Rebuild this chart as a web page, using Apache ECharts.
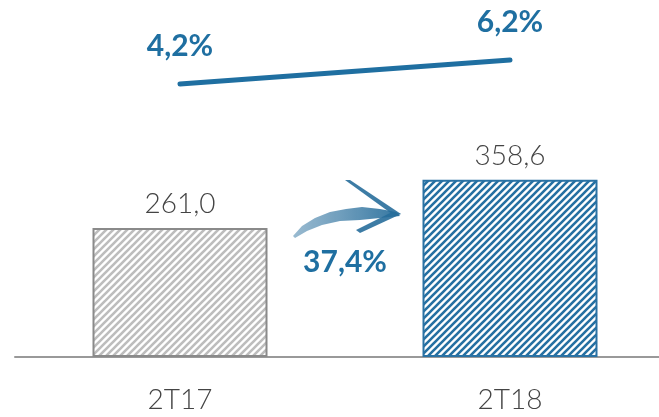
<!DOCTYPE html>
<html>
<head>
<meta charset="utf-8">
<script src="https://cdn.jsdelivr.net/npm/echarts@6/dist/echarts.min.js"></script>
<style>
  html, body { margin: 0; padding: 0; background: #fff; }
  #main { width: 659px; height: 417px; }
</style>
</head>
<body>
<div id="main"></div>
<script>
// data
var categories = ['2T17', '2T18'];
var barValues = [261.0, 358.6];
var lineValues = [4.2, 6.2];
var growthLabel = '37,4%';

var BLUE = '#1f6fa1';
var fmt = function (v, d) { return v.toFixed(d).replace('.', ','); };

// striped fill pattern
function stripes(color) {
  var s = 7;
  var c = document.createElement('canvas');
  c.width = s; c.height = s;
  var ctx = c.getContext('2d');
  ctx.fillStyle = '#fff';
  ctx.fillRect(0, 0, s, s);
  ctx.strokeStyle = color;
  ctx.lineWidth = 2.6;
  ctx.beginPath();
  ctx.moveTo(-1, s + 1); ctx.lineTo(s + 1, -1);
  ctx.moveTo(-s - 1, s + 1); ctx.lineTo(1, -1);
  ctx.moveTo(-1, 2 * s + 1); ctx.lineTo(2 * s + 1, -1);
  ctx.stroke();
  return { image: c, repeat: 'repeat' };
}

var myChart = echarts.init(document.getElementById('main'));
var option = {
  animation: false,
  grid: [
    { left: 15, width: 660, top: 110, bottom: 60, outerBoundsMode: 'none', containLabel: false },
    { left: 15, width: 660, top: 14.4, height: 120, outerBoundsMode: 'none', containLabel: false }
  ],
  xAxis: [
    {
      type: 'category', gridIndex: 0, data: categories,
      axisLine: { lineStyle: { color: '#999', width: 2 } },
      axisTick: { show: false },
      axisLabel: { color: '#444', fontSize: 28, margin: 29, fontFamily: 'Lato', fontWeight: 300 }
    },
    { type: 'category', gridIndex: 1, data: categories, show: false }
  ],
  yAxis: [
    { type: 'value', gridIndex: 0, min: 0, max: 500, show: false },
    { type: 'value', gridIndex: 1, min: 0, max: 10, show: false }
  ],
  series: [
    {
      type: 'bar', xAxisIndex: 0, yAxisIndex: 0, barWidth: 175,
      data: barValues.map(function (v, i) {
        return {
          value: v,
          itemStyle: i === 0
            ? { color: stripes('#bdbdbd'), borderColor: '#8a8a8a', borderWidth: 2 }
            : { color: stripes('#2570a2'), borderColor: '#2a72a4', borderWidth: 2 }
        };
      }),
      label: {
        show: true, position: 'top', distance: 10,
        color: '#444', fontSize: 28, fontFamily: 'Lato', fontWeight: 300,
        formatter: function (p) { return fmt(p.value, 1); }
      }
    },
    {
      type: 'line', xAxisIndex: 1, yAxisIndex: 1, data: lineValues,
      symbol: 'circle', symbolSize: 1, showSymbol: true,
      itemStyle: { color: BLUE },
      lineStyle: { color: BLUE, width: 5, cap: 'round' },
      label: {
        show: true, position: 'top', distance: 22,
        color: BLUE, fontSize: 30, fontWeight: 'bold', fontFamily: 'Lato',
        formatter: function (p) { return fmt(p.value, 1) + '%'; }
      }
    }
  ],
  graphic: [
    {
      // arrow shaft
      type: 'polygon',
      shape: {
        points: [[293, 236], [302, 226], [315, 218], [330, 212], [346, 209], [362, 207],
                 [380, 209], [396, 212], [400, 216], [380, 218], [360, 220], [340, 221],
                 [322, 225], [307, 231], [295, 238]]
      },
      style: {
        fill: {
          type: 'linear', x: 0, y: 0, x2: 1, y2: 0,
          colorStops: [
            { offset: 0, color: 'rgba(70,130,170,0.55)' },
            { offset: 1, color: 'rgba(40,110,155,0.95)' }
          ]
        }
      }
    },
    {
      // arrow head
      type: 'polygon',
      shape: { points: [[345, 180], [350, 180], [401, 214], [392, 214]] },
      style: { fill: 'rgba(40,110,155,0.9)' }
    },
    {
      type: 'polygon',
      shape: { points: [[401, 214], [360, 233], [356, 230], [392, 212]] },
      style: { fill: 'rgba(40,110,155,0.9)' }
    },
    {
      type: 'text', x: 345, y: 262,
      style: {
        text: growthLabel, fill: BLUE, fontSize: 30, fontWeight: 'bold',
        fontFamily: 'Lato', align: 'center', verticalAlign: 'middle'
      }
    }
  ]
};
myChart.setOption(option);
</script>
</body>
</html>
